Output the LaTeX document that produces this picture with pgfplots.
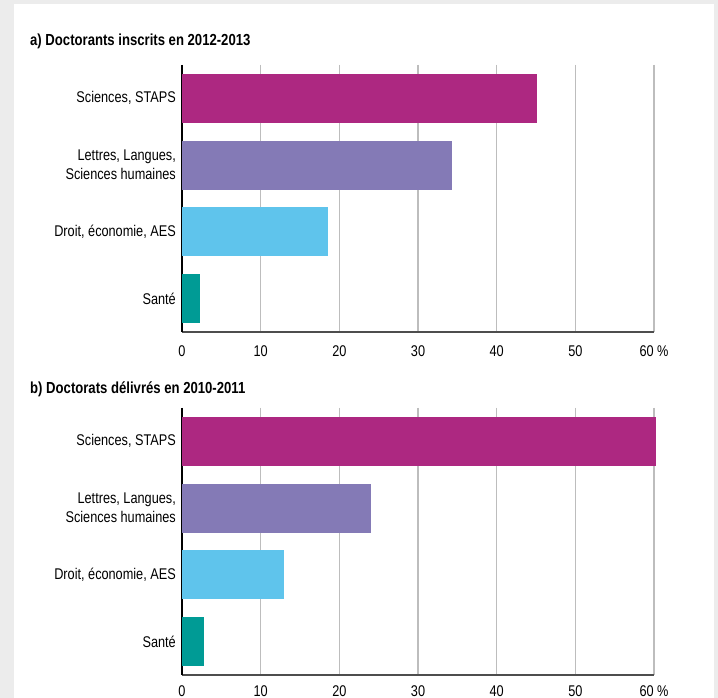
\documentclass[border=0pt]{standalone}
\usepackage{fontspec}
\setmainfont{Liberation Sans}[FakeStretch=0.82]
\usepackage{pgfplots}
\pgfplotsset{compat=1.18}

\definecolor{bggray}{HTML}{ECECEC}
\definecolor{sciences}{HTML}{AD2881}
\definecolor{lettres}{HTML}{847AB6}
\definecolor{droit}{HTML}{5FC4EC}
\definecolor{sante}{HTML}{009B95}
\definecolor{gridgray}{HTML}{BDBDBD}
\definecolor{axisgray}{HTML}{4D4D4D}

\newcommand{\lbl}{\fontsize{15.5bp}{19bp}\selectfont}
\newcommand{\ttl}{\fontsize{16bp}{19bp}\selectfont\bfseries}

\pgfplotsset{
  doct/.style={
    width=472bp, height=267bp, scale only axis, anchor=south west,
    xbar, bar width=49bp, bar shift=0pt, clip=false,
    xmin=0, xmax=60, ymin=-0.5, ymax=3.5, y dir=reverse,
    xtick={0,10,20,30,40,50,60},
    xticklabels={0,10,20,30,40,50,60 \%},
    ytick={0,1,2,3},
    yticklabels={{Sciences, STAPS},{Lettres, Langues,\\Sciences humaines},{Droit, économie, AES},{Santé}},
    xmajorgrids,
    major grid style={draw=gridgray, line width=1.2bp},
    axis x line*=bottom, axis y line*=left,
    x axis line style={draw=axisgray, line width=2bp, -},
    y axis line style={draw=black, line width=1.3bp, -},
    major tick length=0pt,
    xticklabel style={font=\lbl, anchor=north, inner sep=0pt, yshift=-13bp},
    yticklabel style={font=\lbl, align=right, anchor=east, inner sep=0pt, xshift=-6bp},
  },
}

\begin{document}
\begin{tikzpicture}[x=1bp, y=1bp]
\fill[bggray] (0,0) rectangle (718,698);
\fill[white] (14,0) rectangle (714,694);

\node[anchor=base west, inner sep=0pt, font=\ttl] at (30,652) {a) Doctorants inscrits en 2012-2013};
\node[anchor=base west, inner sep=0pt, font=\ttl] at (30,304) {b) Doctorats délivrés en 2010-2011};

% a) doctorants inscrits
\begin{axis}[doct, at={(182bp,366bp)}]
\addplot[fill=sciences, draw=none] coordinates {(45.1,0)};
\addplot[fill=lettres, draw=none] coordinates {(34.3,1)};
\addplot[fill=droit, draw=none] coordinates {(18.6,2)};
\addplot[fill=sante, draw=none] coordinates {(2.3,3)};
\end{axis}

% b) doctorats delivres
\begin{axis}[doct, at={(182bp,23bp)}, xticklabel style={yshift=3bp}]
\addplot[fill=sciences, draw=none] coordinates {(60.3,0)};
\addplot[fill=lettres, draw=none] coordinates {(24.0,1)};
\addplot[fill=droit, draw=none] coordinates {(13.0,2)};
\addplot[fill=sante, draw=none] coordinates {(2.8,3)};
\end{axis}

\pgfresetboundingbox
\path[use as bounding box] (0,0) rectangle (718,698);
\end{tikzpicture}
\end{document}
